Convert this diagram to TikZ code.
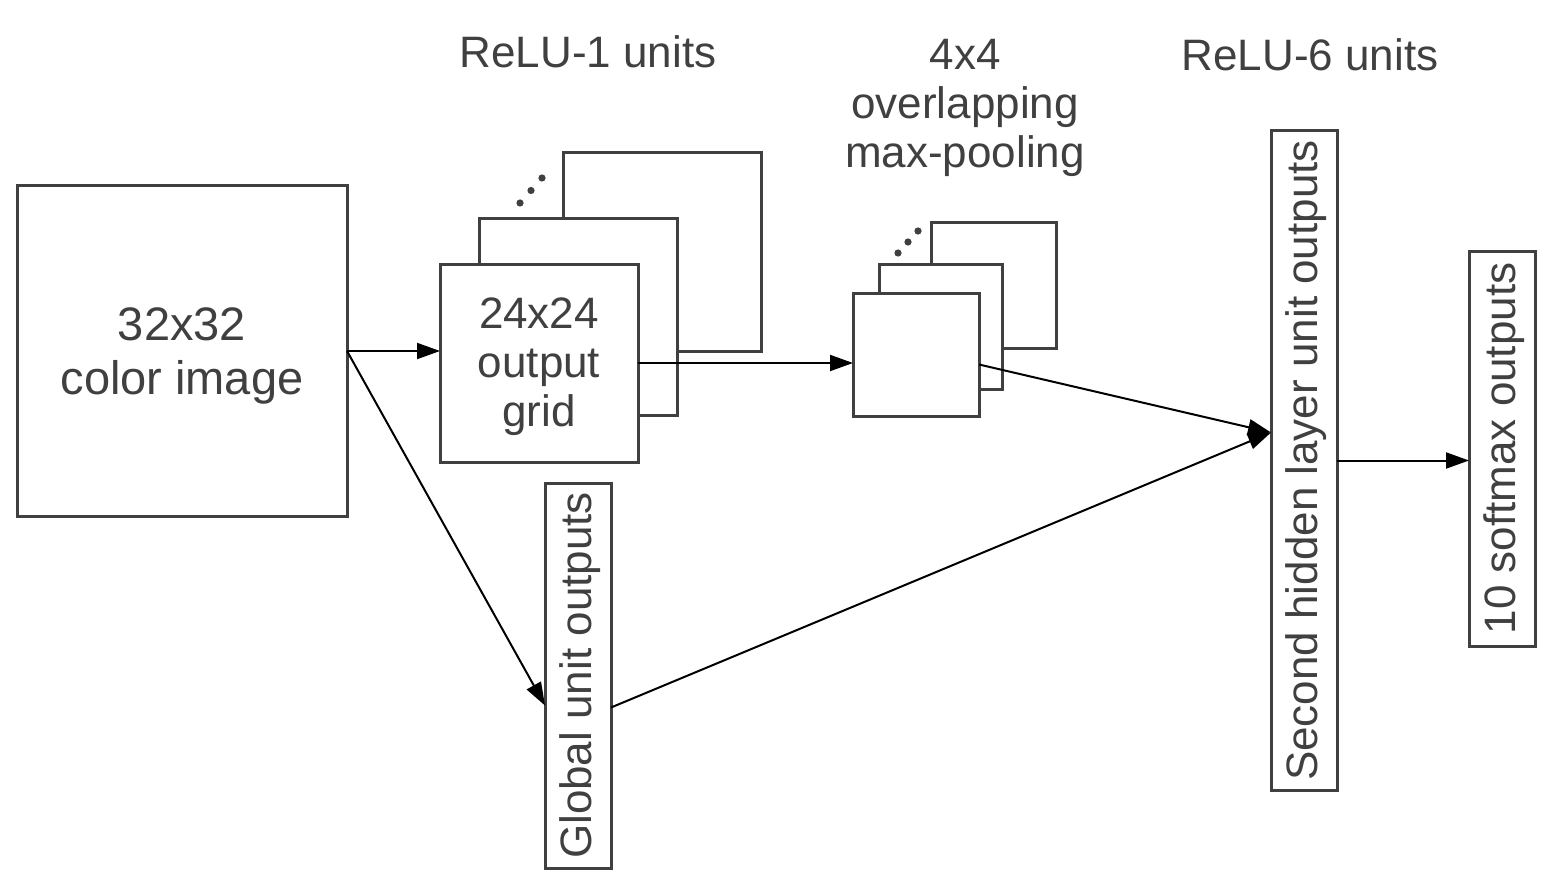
\documentclass[tikz,border=0pt]{standalone}
\usepackage{fontspec}
\setmainfont{Liberation Sans}
\usetikzlibrary{arrows.meta}
\definecolor{dg}{HTML}{404040}
\begin{document}
\begin{tikzpicture}[x=0.5pt,y=-0.5pt,
  box/.style={draw=dg, line width=1.5pt, fill=white, inner sep=0pt, outer sep=0pt, anchor=north west},
  txt/.style={text=dg, font=\fontsize{22}{24.5}\selectfont, align=center, inner sep=0pt},
  bigtxt/.style={text=dg, font=\fontsize{23.5}{27}\selectfont, align=center, inner sep=0pt},
  conn/.style={draw=black, line width=1pt, -{Triangle[length=11.5pt,width=8pt]}},
  dot/.style={fill=dg}
]
\useasboundingbox (0,0) rectangle (1556,882);
\fill[white] (0,0) rectangle (1556,882);

% input image
\node[box, minimum width=165pt, minimum height=165pt] (img) at (17,186) {};
\node[bigtxt] (imgt) at ([yshift=-2.5pt]img.center) {32x32\\color image};

% ReLU-1 stack
\node[box, minimum width=99pt, minimum height=99pt] (r1c) at (563,153) {};
\node[box, minimum width=99pt, minimum height=98pt] (r1b) at (479,219) {};
\node[box, minimum width=99pt, minimum height=99pt] (r1a) at (440,264) {};
\node[txt] (r1t) at ([yshift=-2pt]r1a.center) {24x24\\output\\grid};
\fill[dot] (520,203) circle[radius=1.8pt];
\fill[dot] (531,190.5) circle[radius=1.8pt];
\fill[dot] (542,178) circle[radius=1.8pt];

% pooling stack
\node[box, minimum width=62.5pt, minimum height=62.5pt] (p1c) at (931,223) {};
\node[box, minimum width=61.5pt, minimum height=62.5pt] (p1b) at (879,264) {};
\node[box, minimum width=63pt, minimum height=61.5pt] (p1a) at (853,293) {};
\fill[dot] (898,253) circle[radius=1.8pt];
\fill[dot] (908,242) circle[radius=1.8pt];
\fill[dot] (918,231) circle[radius=1.8pt];

% global unit outputs
\node[box, minimum width=33pt, minimum height=192.5pt] (g) at (545,483) {};
\node[txt, rotate=90] (gt) at ([xshift=1pt]g.center) {Global unit outputs};

% second hidden layer
\node[box, minimum width=33pt, minimum height=329.5pt] (h) at (1271,131) {};
\node[txt, rotate=90] (ht) at ([xshift=1pt]h.center) {Second hidden layer unit outputs};

% softmax
\node[box, minimum width=33pt, minimum height=197.5pt] (s) at (1469,251) {};
\node[txt, rotate=90] (st) at ([xshift=1pt]s.center) {10 softmax outputs};

% top labels
\node[txt] (l1) at (588,52) {ReLU-1 units};
\node[txt, anchor=north] (l2) at (965,39) {4x4\\overlapping\\max-pooling};
\node[txt] (l3) at (1310,55) {ReLU-6 units};

% connectors
\draw[conn] (img.east) -- (img.east -| r1a.west);
\draw[conn] (img.east) -- ([yshift=-15pt]g.west);
\draw[conn] (r1a.east) -- (r1a.east -| p1a.west);
\draw[conn] ([yshift=-5pt]p1a.east) -- ([yshift=14pt]h.west);
\draw[conn] ([yshift=-16pt]g.east) -- ([yshift=14pt]h.west);
\draw[conn] (h.east) -- (h.east -| s.west);
\end{tikzpicture}
\end{document}
